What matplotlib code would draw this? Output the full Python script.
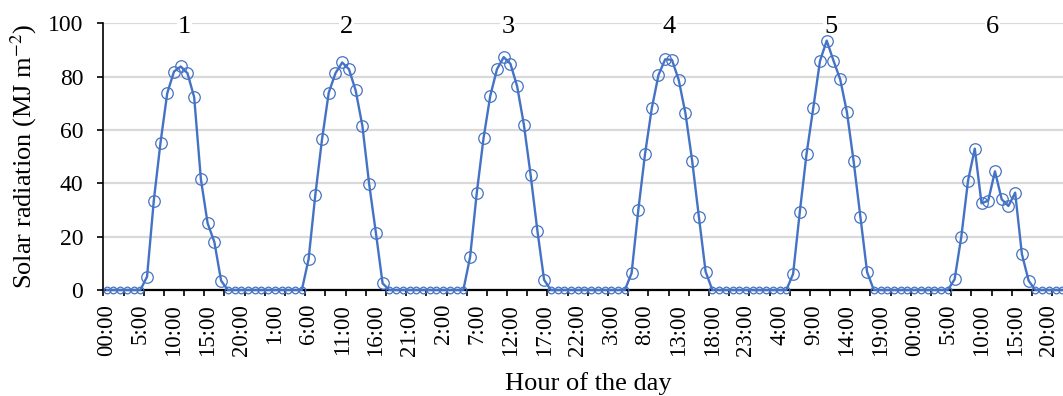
import numpy as np
import matplotlib.pyplot as plt

plt.rcParams['font.family'] = ['Liberation Serif', 'DejaVu Serif']
plt.rcParams['mathtext.fontset'] = 'stix'

# hourly solar radiation, six days, 00:00 .. 23:00
day1 = [0, 0, 0, 0, 0, 0, 5, 33.5, 55.3, 73.8, 81.9, 83.8, 81.3, 72.3, 41.5, 25, 18, 3.5, 0, 0, 0, 0, 0, 0]
day2 = [0, 0, 0, 0, 0, 0, 11.5, 35.6, 56.5, 74, 81.3, 85.3, 82.8, 74.8, 61.5, 39.8, 21.5, 2.5, 0, 0, 0, 0, 0, 0]
day3 = [0, 0, 0, 0, 0, 0, 12.3, 36.5, 56.9, 72.8, 82.8, 87.3, 84.8, 76.3, 61.9, 43.1, 22.3, 3.8, 0, 0, 0, 0, 0, 0]
day4 = [0, 0, 0, 0, 0, 0, 6.3, 30, 51, 68.1, 80.6, 86.5, 86.3, 78.8, 66.3, 48.5, 27.5, 6.9, 0, 0, 0, 0, 0, 0]
day5 = [0, 0, 0, 0, 0, 0, 6, 29.3, 51, 68.3, 85.9, 93.5, 86, 79, 66.7, 48.2, 27.4, 6.7, 0, 0, 0, 0, 0, 0]
day6 = [0, 0, 0, 0, 0, 0, 4, 20, 41, 53, 32.5, 33.5, 44.5, 34, 31.5, 36.5, 13.5, 3.5, 0, 0, 0, 0, 0, 0]

day_names = ['1', '2', '3', '4', '5', '6']
tick_labels = ['00:00', '5:00', '10:00', '15:00', '20:00', '1:00', '6:00', '11:00', '16:00', '21:00',
               '2:00', '7:00', '12:00', '17:00', '22:00', '3:00', '8:00', '13:00', '18:00', '23:00',
               '4:00', '9:00', '14:00', '19:00', '00:00', '5:00', '10:00', '15:00', '20:00']

days = [day1, day2, day3, day4, day5, day6]
y = np.concatenate(days)
x = np.arange(len(y))

blue = '#4472c4'

fig = plt.figure(figsize=(10.63, 3.96), dpi=100)
ax = fig.add_axes([0.0972, 0.2677, 0.9116, 0.6735])

ax.plot(x, y, color=blue, lw=1.7, zorder=3, clip_on=False)
nz = y > 0
ax.plot(x[nz], y[nz], ls='none', marker='o', ms=8.3, mfc='none', mec=blue, mew=0.9,
        zorder=4, clip_on=False)
ax.plot(x[~nz], y[~nz], ls='none', marker='o', ms=4.8, mfc='none', mec=blue, mew=0.9,
        zorder=4, clip_on=False)

ax.set_xlim(-0.5, len(y) - 0.5)
ax.set_ylim(0, 100)
ax.set_yticks(np.arange(0, 101, 20))
ax.yaxis.grid(True, color='#d9d9d9', lw=1.6)
ax.set_axisbelow(True)

ax.set_xticks(np.arange(-0.5, len(y), 3))
ax.set_xticklabels([])
ax.set_xticks(np.arange(0, len(y), 5), minor=True)
ax.set_xticklabels(tick_labels, minor=True, rotation=90)
ax.tick_params(axis='x', which='major', length=4.5, width=1.2, direction='out')
ax.tick_params(axis='x', which='minor', length=0, pad=10, labelsize=16.5)
ax.tick_params(axis='y', length=4.5, width=1.2, pad=10, labelsize=17)

for s in ['top', 'right']:
    ax.spines[s].set_visible(False)
ax.spines['left'].set_linewidth(1.2)
ax.spines['bottom'].set_linewidth(1.6)

# day numbers sit on the top gridline, under the markers
for k, name in enumerate(day_names):
    ax.text(24 * k + 11.6, 99.5, name, ha='center', va='center_baseline', fontsize=19,
            bbox=dict(facecolor='white', edgecolor='none', pad=0.5), zorder=2.8)

ax.set_xlabel('Hour of the day', fontsize=19, va='center')
ax.xaxis.set_label_coords(0.5, -0.352)
ax.set_ylabel('Solar radiation (MJ m$^{-2}$)', fontsize=19, va='center')
ax.yaxis.set_label_coords(-0.082, 0.5)

fig.savefig('out.png', dpi=100)
